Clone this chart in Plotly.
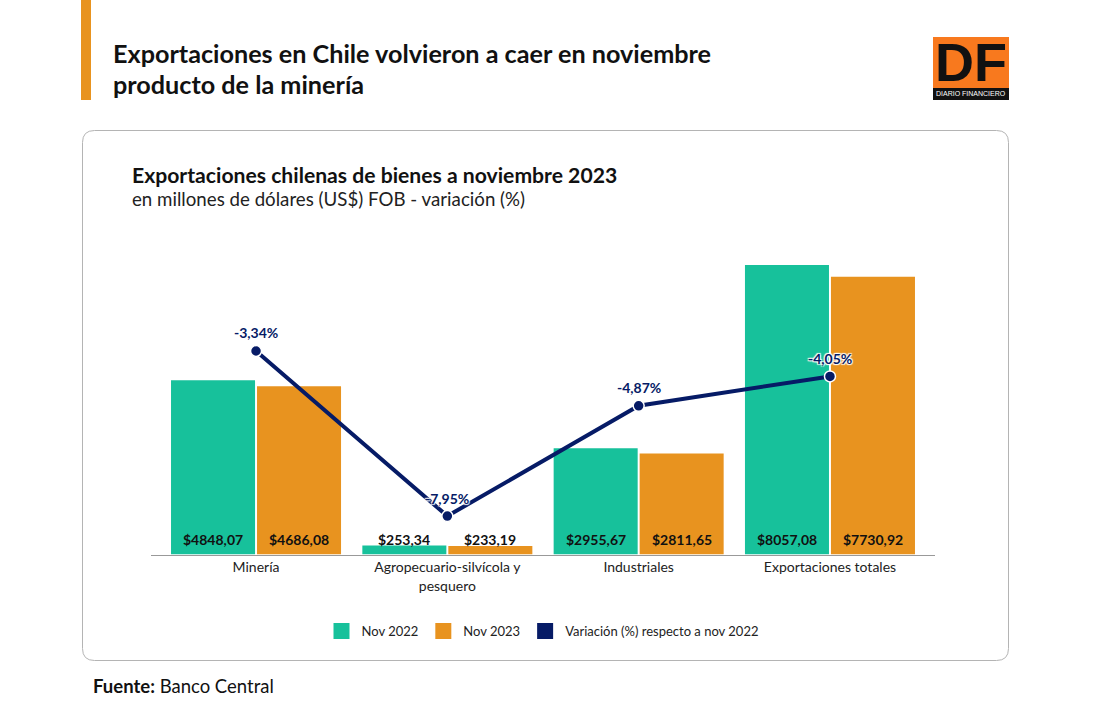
import plotly.graph_objects as go

W, H = 1095, 720
FONT = "Lato"

categories = ["Minería", "Agropecuario-silvícola y<br>pesquero", "Industriales", "Exportaciones totales"]
nov_2022 = [4848.07, 253.34, 2955.67, 8057.08]
nov_2023 = [4686.08, 233.19, 2811.65, 7730.92]
variacion = [-3.34, -7.95, -4.87, -4.05]

GREEN, ORANGE, NAVY = "#17C19B", "#E8931F", "#061B66"
HALO = "1px 1px 1px white, -1px -1px 1px white, 1px -1px 1px white, -1px 1px 1px white"


def px(x):
    return x / W


def py(y):
    return 1 - y / H


def es(v, d=2):
    return f"{v:.{d}f}".replace(".", ",")


xs = list(range(len(categories)))
fig = go.Figure()
fig.add_bar(x=xs, y=nov_2022, marker_color=GREEN, marker_line_width=0, showlegend=False, name="Nov 2022")
fig.add_bar(x=xs, y=nov_2023, marker_color=ORANGE, marker_line_width=0, showlegend=False, name="Nov 2023")
fig.add_scatter(
    x=xs, y=variacion, yaxis="y2", mode="lines+markers", showlegend=False,
    name="Variación (%)",
    line=dict(color=NAVY, width=4),
    marker=dict(size=11, color=NAVY, line=dict(color="white", width=1.5)),
    cliponaxis=False,
)
for name, color in [("Nov 2022", GREEN), ("Nov 2023", ORANGE), ("Variación (%) respecto a nov 2022", NAVY)]:
    fig.add_scatter(x=[None], y=[None], mode="markers", name=name,
                    marker=dict(symbol="square", size=16, color=color))

annotations = []
for i in xs:
    for off, vals in ((-0.2247, nov_2022), (0.2247, nov_2023)):
        annotations.append(dict(
            x=i + off, y=0, xref="x", yref="y", yanchor="bottom", xanchor="center", yshift=5,
            showarrow=False, text=f"<b>${es(vals[i])}</b>",
            font=dict(family=FONT, size=14, color="#111111")))
    annotations.append(dict(
        x=i, y=variacion[i], xref="x", yref="y2", yanchor="middle", xanchor="center", yshift=18,
        showarrow=False, text=f"<b>{es(variacion[i])}%</b>",
        font=dict(family=FONT, size=14, color=NAVY, shadow=HALO)))


def label(x, y, text, size, color="#111111", family=FONT):
    annotations.append(dict(x=px(x - 2), y=py(y), xref="paper", yref="paper", xanchor="left", yanchor="middle",
                            showarrow=False, text=text, align="left",
                            font=dict(family=family, size=size, color=color)))


label(113, 53.5, "<b>Exportaciones en Chile volvieron a caer en noviembre</b>", 25.2)
label(113, 83.5, "<b>producto de la minería</b>", 25.2)
label(132, 175, "<b>Exportaciones chilenas de bienes a noviembre 2023</b>", 21.15)
label(132, 199, "en millones de dólares (US$) FOB - variación (%)", 18.7, "#222222")
label(93, 686, "<b>Fuente:</b> Banco Central", 18.5)
annotations.append(dict(x=px(971), y=py(62), xref="paper", yref="paper", xanchor="center", yanchor="middle",
                        showarrow=False, text="<b>DF</b>", font=dict(family="Liberation Sans", size=54, color="#111111")))
annotations.append(dict(x=px(971), y=py(94), xref="paper", yref="paper", xanchor="center", yanchor="middle",
                        showarrow=False, text="DIARIO FINANCIERO", font=dict(family="Liberation Sans", size=7, color="white")))


def rrect(x0, y0, x1, y1, r):
    a, b, c, d = px(x0), py(y0), px(x1), py(y1)
    rx, ry = r / W, r / H
    return (f"M{a+rx},{b} L{c-rx},{b} Q{c},{b} {c},{b-ry} L{c},{d+ry} Q{c},{d} {c-rx},{d} "
            f"L{a+rx},{d} Q{a},{d} {a},{d+ry} L{a},{b-ry} Q{a},{b} {a+rx},{b} Z")


shapes = [
    dict(type="rect", xref="paper", yref="paper", x0=px(81), x1=px(91), y0=py(0), y1=py(100),
         fillcolor=ORANGE, line_width=0, layer="below"),
    dict(type="path", xref="paper", yref="paper", path=rrect(82.5, 130.5, 1008.5, 660.5, 12),
         fillcolor="white", line=dict(color="#B4B4B4", width=1), layer="below"),
    dict(type="rect", xref="paper", yref="paper", x0=px(933), x1=px(1009), y0=py(37), y1=py(88),
         fillcolor="#F8791E", line_width=0, layer="below"),
    dict(type="rect", xref="paper", yref="paper", x0=px(933), x1=px(1009), y0=py(88), y1=py(100),
         fillcolor="#111111", line_width=0, layer="below"),
]

fig.update_layout(
    width=W, height=H, autosize=False, margin=dict(l=0, r=0, t=0, b=0),
    paper_bgcolor="white", plot_bgcolor="rgba(0,0,0,0)",
    font=dict(family=FONT, size=13, color="#222222"),
    barmode="group", bargap=0.101, bargroupgap=0.023,
    xaxis=dict(domain=[px(151), px(935)], range=[-0.549, 3.549], tickvals=xs, ticktext=categories,
               showgrid=False, zeroline=False, showline=True, linecolor="#999999", linewidth=1,
               ticks="", tickfont=dict(family=FONT, size=14, color="#222222"), fixedrange=True),
    yaxis=dict(domain=[py(554.5), py(240)], range=[0, 8753], visible=False, fixedrange=True),
    yaxis2=dict(domain=[py(554.5), py(240)], range=[-9.024, -0.2395], overlaying="y", visible=False, fixedrange=True),
    legend=dict(orientation="h", x=px(542.5), xanchor="center", y=py(631), yanchor="middle",
                font=dict(family=FONT, size=13, color="#222222"), bgcolor="rgba(0,0,0,0)"),
    annotations=annotations, shapes=shapes,
)

fig.write_html("out.html", config=dict(displayModeBar=False),
               post_script="document.body.style.margin='0';document.documentElement.style.overflow='hidden';")
